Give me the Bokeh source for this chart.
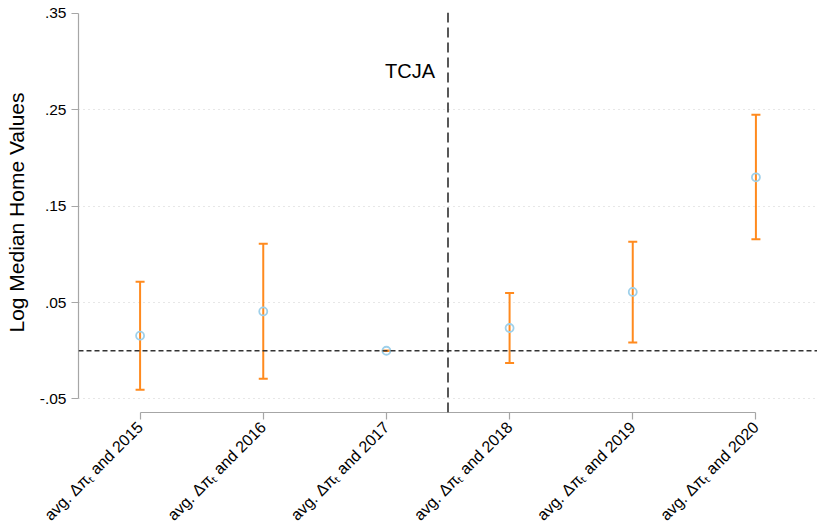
import math
from bokeh.plotting import figure
from bokeh.models import (ColumnDataSource, Whisker, TeeHead, Span, Label,
                          FixedTicker, Range1d)
from bokeh.embed import file_html
from bokeh.resources import INLINE

# ---- data ----
years = ["2015", "2016", "2017", "2018", "2019", "2020"]
labels = ["avg. \u0394\u03c0\u209c and " + y for y in years]
coef = [0.0156, 0.0408, 0.0, 0.0236, 0.0610, 0.1800]
ci_low = [-0.0405, -0.0290, 0.0, -0.0128, 0.0086, 0.1156]
ci_high = [0.0717, 0.1110, 0.0, 0.0600, 0.1130, 0.2450]
ytick_vals = [-0.05, 0.05, 0.15, 0.25, 0.35]
ytick_labels = ["-.05", ".05", ".15", ".25", ".35"]
ygrid_vals = [-0.05, 0.05, 0.15, 0.25]
y_title = "Log Median Home Values"
event_pos = 3.5
event_text = "TCJA"

xpos = list(range(1, len(years) + 1))
src = ColumnDataSource(dict(x=xpos, coef=coef, lo=ci_low, hi=ci_high))

FONT = "Liberation Sans"
ORANGE = "#FF8A1E"
BLUE = "#9ED0EA"
AXIS = "#A6A6A6"

p = figure(width=817, height=525, frame_width=739, frame_height=400,
           min_border_left=78, min_border_right=0, min_border_top=12,
           min_border_bottom=113,
           x_range=Range1d(0.5, 6.5), y_range=Range1d(-0.0641, 0.351),
           output_backend="svg", toolbar_location=None,
           background_fill_color="white", border_fill_color="white")
p.outline_line_color = None

# grid
p.xgrid.grid_line_color = None
p.ygrid.ticker = FixedTicker(ticks=ygrid_vals)
p.ygrid.grid_line_color = "#CFCFCF"
p.ygrid.grid_line_dash = "1 4"
p.ygrid.grid_line_width = 1

# axes
p.yaxis.ticker = FixedTicker(ticks=ytick_vals)
p.yaxis.major_label_overrides = {v: s for v, s in zip(ytick_vals, ytick_labels)}
p.yaxis.bounds = (ytick_vals[0], ytick_vals[-1])
p.yaxis.axis_label = y_title
p.yaxis.axis_label_text_font = FONT
p.yaxis.axis_label_text_font_size = "21px"
p.yaxis.axis_label_text_font_style = "normal"
p.yaxis.axis_label_text_color = "black"
p.yaxis.axis_label_standoff = 9
p.yaxis.major_label_standoff = 5

p.xaxis.ticker = FixedTicker(ticks=xpos)
p.xaxis.major_label_overrides = {x: s for x, s in zip(xpos, labels)}
p.xaxis.bounds = (xpos[0], xpos[-1])
p.xaxis.major_label_orientation = math.pi / 4
p.xaxis.major_label_standoff = 5

for ax in (p.xaxis[0], p.yaxis[0]):
    ax.axis_line_color = AXIS
    ax.axis_line_width = 1.2
    ax.major_tick_line_color = AXIS
    ax.major_tick_line_width = 1.2
    ax.major_tick_in = 0
    ax.major_tick_out = 7
    ax.minor_tick_line_color = None
    ax.major_label_text_font = FONT
    ax.major_label_text_color = "black"
p.yaxis.major_label_text_font_size = "15.5px"
p.xaxis.major_label_text_font_size = "16px"

# reference lines
p.add_layout(Span(location=0, dimension="width", line_color="#333333",
                  line_dash="5 3", line_width=1.5))
p.add_layout(Span(location=event_pos, dimension="height", line_color="#111111",
                  line_dash="10 5", line_width=1.4))
p.add_layout(Label(x=event_pos, y=0.2905, x_offset=-13, text=event_text,
                   text_align="right", text_baseline="alphabetic",
                   text_font=FONT, text_font_size="20px", text_color="black"))

# error bars
w = Whisker(base="x", upper="hi", lower="lo", source=src, dimension="height",
            line_color=ORANGE, line_width=2,
            upper_head=TeeHead(size=9, line_color=ORANGE, line_width=2),
            lower_head=TeeHead(size=9, line_color=ORANGE, line_width=2))
p.add_layout(w)

# point estimates
p.scatter("x", "coef", source=src, size=8, marker="circle",
          fill_color=None, line_color=BLUE, line_width=1.8)

open("out.html", "w").write(file_html(p, INLINE))
